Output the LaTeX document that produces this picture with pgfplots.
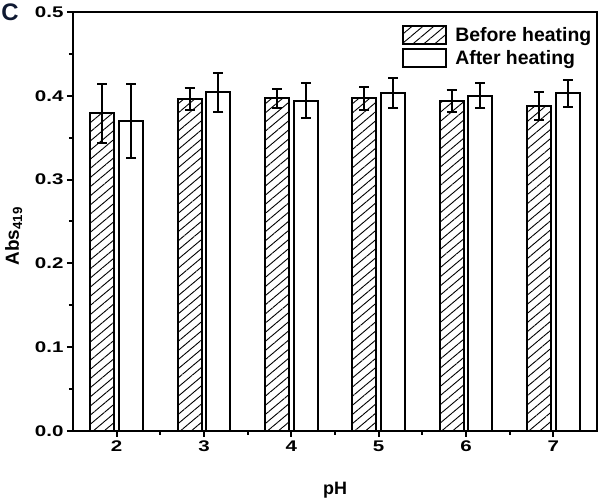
\documentclass[border=0pt]{standalone}
\usepackage{fontspec}
\setmainfont{Liberation Sans}
\newfontfamily\tickfont[FakeStretch=1.33]{Liberation Sans}
\usepackage{pgfplots}
\pgfplotsset{compat=1.18}
\usetikzlibrary{patterns.meta}
\begin{document}
\begin{tikzpicture}
\path[use as bounding box] (-73bp,-69bp) rectangle (527bp,431bp);
\begin{axis}[
  at={(0,0)}, anchor=south west, scale only axis,
  width=524bp, height=419bp,
  xmin=1.5, xmax=7.5, ymin=0, ymax=0.5,
  xtick={2,3,4,5,6,7}, ytick={0,0.1,0.2,0.3,0.4,0.5},
  minor x tick num=1, minor y tick num=1,
  tick align=outside, tick pos=left,
  major tick length=6bp, minor tick length=4bp,
  axis line style={line width=2bp},
  major tick style={line width=2bp, black},
  minor tick style={line width=2bp, black},
  /pgf/number format/assume math mode=true,
  ticklabel style={font=\tickfont\bfseries\fontsize{15.5}{18}\selectfont},
  yticklabel style={/pgf/number format/.cd, fixed, fixed zerofill, precision=1},
  xlabel={pH},
  ylabel={Abs\textsubscript{419}},
  every axis x label/.style={at={(axis description cs:0.5,-0.141)}, anchor=center,
    font=\bfseries\fontsize{18}{20}\selectfont},
  every axis y label/.style={at={(axis description cs:-0.113,0.465)}, rotate=90, anchor=center,
    font=\bfseries\fontsize{19}{20}\selectfont},
  legend style={draw=none, fill=none, at={(0.628,0.97)}, anchor=north west,
    font=\bfseries\fontsize{19.5}{22}\selectfont, inner sep=0pt, row sep=3bp,
    /tikz/every odd column/.append style={column sep=6bp}},
  legend cell align=left,
  legend image code/.code={\draw[#1, line width=2bp] (0bp,-9bp) rectangle (43bp,9bp);},
]
\addplot[ybar, bar width=24bp, bar shift=0bp, draw=black, line width=2bp,
  pattern={Lines[angle=40,distance=7bp,line width=0.9bp]}, pattern color=black,
  error bars/.cd, y dir=both, y explicit,
  error bar style={line width=2bp, black, solid},
  error mark options={rotate=90, mark size=5bp, line width=2bp, black}]
table[x expr=\thisrow{x}-0.166, y=y, y error=e] {
x y e
2 0.379 0.035
3 0.396 0.013
4 0.397 0.011
5 0.397 0.0135
6 0.394 0.013
7 0.388 0.017
};
\addlegendentry{Before heating}
\addplot[ybar, bar width=24bp, bar shift=0bp, draw=black, line width=2bp, fill=white,
  error bars/.cd, y dir=both, y explicit,
  error bar style={line width=2bp, black, solid},
  error mark options={rotate=90, mark size=5bp, line width=2bp, black}]
table[x expr=\thisrow{x}+0.166, y=y, y error=e] {
x y e
2 0.370 0.044
3 0.404 0.023
4 0.394 0.021
5 0.403 0.018
6 0.400 0.015
7 0.403 0.016
};
\addlegendentry{After heating}
\end{axis}
\node[font=\bfseries\fontsize{24}{24}\selectfont, text={rgb,255:red,15;green,25;blue,50}] at (-63bp,419bp) {C};
\end{tikzpicture}
\end{document}
